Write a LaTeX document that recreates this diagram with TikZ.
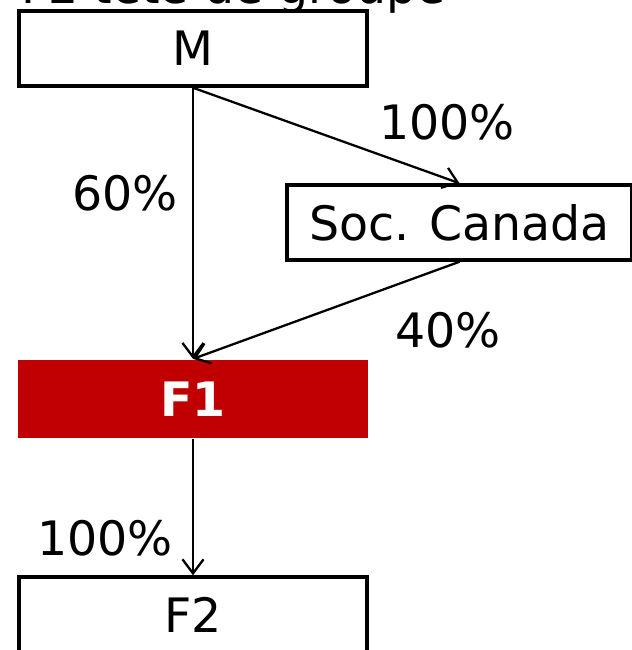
\documentclass[tikz,border=0pt]{standalone}
\usepackage{fontspec}
\setmainfont{DejaVu Sans}
\usetikzlibrary{positioning, arrows.meta}

\begin{document}
\begin{tikzpicture}[x=0.02cm, y=-0.02cm, -{Straight Barb[length=8pt,width=12pt]},
      line width=1.3pt, font=\fontsize{27}{32}\selectfont,
      firm/.style={rectangle, draw, line width=2pt, inner sep=0pt, minimum width=6.96cm, minimum height=1.5cm},
      head/.style={rectangle, fill={rgb,255:red,192;green,0;blue,0}, text=white, inner sep=0pt,
        minimum width=7cm, minimum height=1.56cm, font=\fontsize{27}{32}\selectfont\bfseries},
      pct/.style={inner sep=0pt}]
      \useasboundingbox (0,0) rectangle (632,650);
      \clip (0,0) rectangle (632,650);
      % title (cut at the top)
      \node[pct, anchor=base west] (title) at (20,3) {F2 tête de groupe};
      % M, Soc. Canada
      \node[firm] (M) at (193,48.5) {M};
      \node[firm, minimum width=6.9cm] (canada) at (459.5,222.5) {Soc. Canada};
      \path (M.south) edge (canada.north);
      \node[pct] (p_mc) at (447,122) {100\%};
      % F1
      \node[head] (F1) at (193,399) {F1};
      \path (M.south) edge (F1.north);
      \path (canada.south) edge (F1.north);
      \node[pct] (p_mf) at (125,193) {60\%};
      \node[pct] (p_cf) at (448,330) {40\%};
      % F2
      \node[firm] (F2) at (193,614.5) {F2};
      \path (F1.south) edge (F2.north);
      \node[pct] (p_ff) at (105,538) {100\%};
  \end{tikzpicture}
\end{document}
